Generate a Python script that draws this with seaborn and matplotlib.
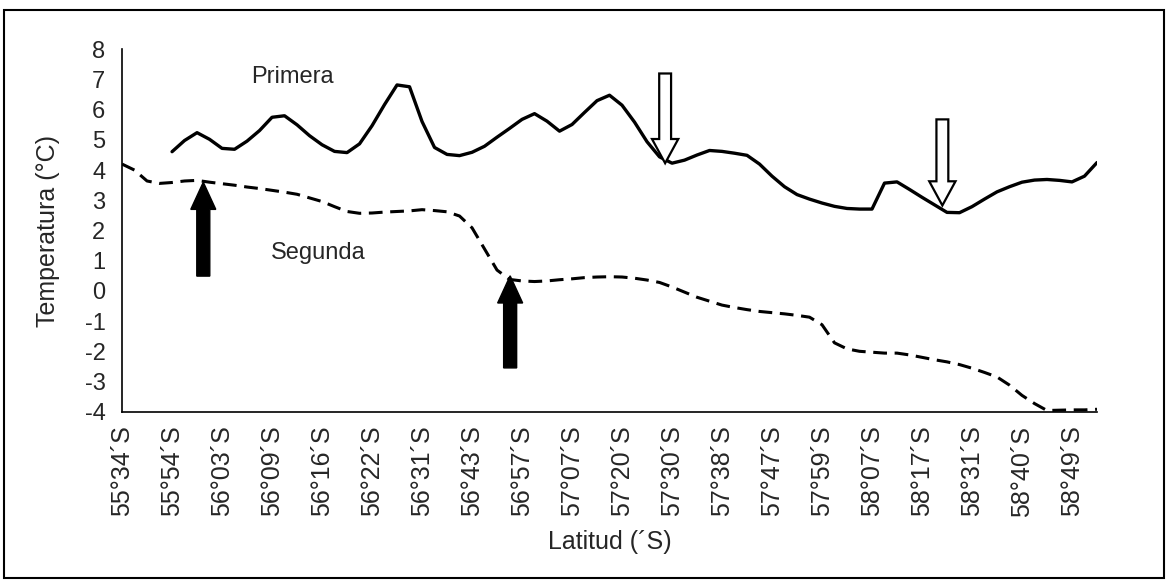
import matplotlib
matplotlib.use("Agg")
from matplotlib import pyplot as plt
from matplotlib.patches import Rectangle
import numpy as np
import pandas as pd
import seaborn as sns

# latitude labels (one label every 4 readings, tick every 2)
lat_labels = ["55°34´S", "55°54´S", "56°03´S", "56°09´S", "56°16´S",
              "56°22´S", "56°31´S", "56°43´S", "56°57´S", "57°07´S",
              "57°20´S", "57°30´S", "57°38´S", "57°47´S", "57°59´S",
              "58°07´S", "58°17´S", "58°31´S", "58°40´S", "58°49´S"]
reading = list(range(79))

# temperature (°C)
nan = np.nan
primera = [nan, nan, nan, nan, 4.61, 4.98, 5.24, 5.02, 4.72, 4.69,
           4.96, 5.31, 5.75, 5.80, 5.50, 5.14, 4.84, 4.62, 4.58, 4.87,
           5.47, 6.17, 6.82, 6.76, 5.61, 4.75, 4.52, 4.48, 4.59, 4.79,
           5.09, 5.38, 5.68, 5.87, 5.62, 5.29, 5.51, 5.91, 6.30, 6.48,
           6.15, 5.59, 4.94, 4.44, 4.23, 4.33, 4.50, 4.65, 4.62, 4.56,
           4.49, 4.20, 3.80, 3.45, 3.19, 3.04, 2.91, 2.80, 2.73, 2.71,
           2.71, 3.57, 3.61, 3.36, 3.10, 2.85, 2.60, 2.59, 2.79, 3.04,
           3.28, 3.45, 3.60, 3.67, 3.69, 3.66, 3.61, 3.80, 4.25]
segunda = [4.20, 4.00, 3.64, 3.56, 3.59, 3.64, 3.66, 3.60, 3.55, 3.50,
           3.44, 3.39, 3.33, 3.27, 3.20, 3.08, 2.96, 2.79, 2.63, 2.57,
           2.58, 2.61, 2.63, 2.65, 2.69, 2.66, 2.62, 2.48, 2.09, 1.39,
           0.69, 0.38, 0.33, 0.31, 0.33, 0.37, 0.40, 0.44, 0.46, 0.47,
           0.46, 0.42, 0.36, 0.28, 0.13, -0.04, -0.21, -0.34, -0.47, -0.55,
           -0.62, -0.68, -0.72, -0.76, -0.81, -0.87, -1.12, -1.72, -1.92, -2.00,
           -2.03, -2.06, -2.06, -2.12, -2.20, -2.28, -2.35, -2.44, -2.56, -2.70,
           -2.85, -3.12, -3.46, -3.73, -3.96, -3.95, -3.94, -3.94, -3.92]

# arrows: (reading, tail temp, tip temp)
black_arrows = [(6.5, 0.49, 3.60), (31.05, -2.55, 0.50)]
white_arrows = [(43.45, 7.20, 4.23), (65.63, 5.68, 2.83)]

df = pd.DataFrame({"reading": reading, "Primera": primera, "Segunda": segunda})

sns.set_style("white")
plt.rcParams["font.family"] = ["Liberation Sans", "DejaVu Sans"]
plt.rcParams["axes.unicode_minus"] = False

fig = plt.figure(figsize=(11.69, 5.81), dpi=100)
ax = fig.add_axes([0.1044, 0.2914, 0.8340, 0.6237])

sns.lineplot(data=df, x="reading", y="Primera", ax=ax, color="black", lw=2.4)
sns.lineplot(data=df, x="reading", y="Segunda", ax=ax, color="black", lw=2.2,
             linestyle=(0, (4.5, 2.5)))

for x, y0, y1 in black_arrows:
    ax.arrow(x, y0, 0, y1 - y0, width=1.04, head_width=2.0, head_length=0.9,
             length_includes_head=True, fc="black", ec="black", lw=1)
for x, y0, y1 in white_arrows:
    ax.arrow(x, y0, 0, y1 - y0, width=0.95, head_width=2.1, head_length=0.8,
             length_includes_head=True, fc="white", ec="black", lw=1.6, zorder=5)

ax.text(13.6, 7.1, "Primera", fontsize=17, ha="center", va="center")
ax.text(15.7, 1.27, "Segunda", fontsize=17, ha="center", va="center")

ax.set_xlim(0, 78)
ax.set_ylim(-4, 8)
ax.set_yticks(range(-4, 9))
ax.set_xticks(reading[::2])
ax.set_xticklabels([lat_labels[i // 2] if i % 2 == 0 else "" for i in range(40)],
                   rotation=90, fontsize=18)
ax.tick_params(axis="y", labelsize=17, length=6, width=1, direction="out", pad=6)
ax.tick_params(axis="x", length=6, width=1, direction="out", pad=4)
ax.set_xlabel("Latitud (´S)", fontsize=18, labelpad=10)
ax.set_ylabel("Temperatura (°C)", fontsize=18, labelpad=18)
sns.despine(ax=ax)
for s in ["left", "bottom"]:
    ax.spines[s].set_color("black")
    ax.spines[s].set_linewidth(1.2)

fig.patches.append(Rectangle((4 / 1169, 3 / 581), 1160 / 1169, 568 / 581,
                             transform=fig.transFigure, fill=False,
                             ec="black", lw=1.5))

fig.savefig("out.png", dpi=100)
